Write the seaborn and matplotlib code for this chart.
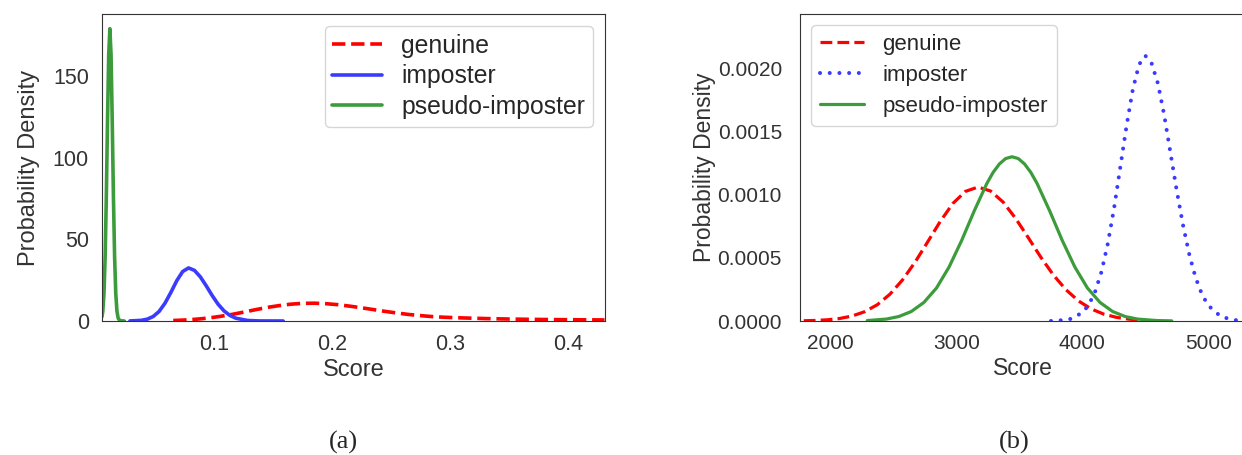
import matplotlib
matplotlib.use("Agg")
import matplotlib.pyplot as plt
import seaborn as sns
from matplotlib.ticker import FormatStrFormatter

# ---- data ----
# panel (a)
a_genuine_x = [0.0655, 0.075, 0.085, 0.095, 0.105, 0.115, 0.125, 0.135, 0.145,
               0.155, 0.165, 0.175, 0.185, 0.195, 0.205, 0.215, 0.225, 0.235,
               0.245, 0.255, 0.265, 0.275, 0.285, 0.295, 0.31, 0.33, 0.35,
               0.37, 0.39, 0.41, 0.431]
a_genuine_y = [0.3, 0.6, 1.1, 1.8, 2.8, 4.0, 5.4, 6.9, 8.3,
               9.4, 10.3, 10.8, 10.9, 10.6, 10.0, 9.1, 8.1, 7.0,
               5.9, 4.9, 4.0, 3.3, 2.7, 2.3, 1.9, 1.5, 1.2,
               1.0, 0.85, 0.75, 0.65]
a_imposter_x = [0.0288, 0.0385, 0.0435, 0.0485, 0.0535, 0.0585, 0.0635, 0.0685,
                0.0735, 0.0785, 0.0835, 0.0885, 0.0935, 0.0985, 0.1035, 0.1085,
                0.1135, 0.1185, 0.1285, 0.1385, 0.1587]
a_imposter_y = [0.04, 0.40, 1.13, 2.75, 5.85, 10.9, 17.5, 24.7,
                30.3, 32.5, 31.0, 27.0, 21.5, 15.6, 10.3, 6.22,
                3.43, 1.72, 0.33, 0.04, 0.0]
a_pseudo_x = [0.0051, 0.0058, 0.0068, 0.0078, 0.0088, 0.0098, 0.0108, 0.0118,
              0.0128, 0.0138, 0.0148, 0.0158, 0.0168, 0.0178, 0.0188, 0.0203,
              0.0240]
a_pseudo_y = [2.6, 5.96, 16.8, 39.5, 76.4, 122.7, 162.9, 179.0,
              162.9, 122.7, 76.4, 39.5, 16.8, 5.96, 1.74, 0.19,
              0.0]

# panel (b)
b_genuine_x = [1785, 1870, 1970, 2070, 2170, 2270, 2370, 2470, 2570, 2670,
               2770, 2870, 2970, 3070, 3170, 3270, 3370, 3470, 3570, 3670,
               3770, 3870, 3970, 4070, 4170, 4270, 4370, 4470]
b_genuine_y = [0.0000019, 0.0000041, 0.0000093, 0.0000198, 0.0000396,
               0.0000739, 0.000129, 0.000212, 0.000325, 0.000466,
               0.000626, 0.000788, 0.000930, 0.001026, 0.00106,
               0.001029, 0.000941, 0.000811, 0.000659, 0.000504,
               0.000363, 0.000247, 0.000158, 0.0000953, 0.0000542,
               0.0000290, 0.0000146, 0.0000070]
b_imposter_x = [3750, 3800, 3900, 4000, 4050, 4100, 4150, 4200, 4250, 4300,
                4350, 4400, 4450, 4500, 4550, 4600, 4650, 4700, 4750, 4800,
                4850, 4900, 4950, 5000, 5100, 5200, 5300]
b_imposter_y = [0.0000004, 0.0000024, 0.0000143, 0.0000658, 0.000127,
                0.000229, 0.000385, 0.000604, 0.000883, 0.00121,
                0.00154, 0.00183, 0.00203, 0.00210, 0.00204,
                0.00188, 0.00163, 0.00133, 0.00103, 0.000757,
                0.000524, 0.000342, 0.000211, 0.000123, 0.0000354,
                0.0000081, 0.0000015]
b_pseudo_x = [2290, 2440, 2540, 2640, 2740, 2840, 2940, 3040, 3140, 3240,
              3290, 3340, 3390, 3440, 3490, 3540, 3590, 3640, 3740, 3840,
              3940, 4040, 4140, 4240, 4340, 4440, 4590, 4710]
b_pseudo_y = [0.0000036, 0.0000151, 0.0000352, 0.0000752, 0.000147,
              0.000261, 0.000427, 0.000637, 0.000871, 0.001088,
              0.001176, 0.001243, 0.001286, 0.00130, 0.001286,
              0.001243, 0.001176, 0.001088, 0.000871, 0.000637,
              0.000427, 0.000261, 0.000147, 0.0000752, 0.0000352,
              0.0000151, 0.0000036, 0.000001]

labels = ["genuine", "imposter", "pseudo-imposter"]
RED, BLUE, GREEN = "#ff0000", "#3b3bff", "#3c9c3c"
TXT = "#333333"

sns.set_style("white")
plt.rcParams["font.family"] = ["Liberation Sans", "DejaVu Sans"]
plt.rcParams["axes.edgecolor"] = "#333333"

fig = plt.figure(figsize=(12.42, 4.55), dpi=100)
ax1 = fig.add_axes([0.0821, 0.2945, 0.4050, 0.6747])
ax2 = fig.add_axes([0.6441, 0.2945, 0.3591, 0.6747])

# ---- (a) ----
sns.lineplot(x=a_genuine_x, y=a_genuine_y, ax=ax1, color=RED, lw=2.6,
             linestyle="--", label=labels[0])
sns.lineplot(x=a_imposter_x, y=a_imposter_y, ax=ax1, color=BLUE, lw=2.6,
             label=labels[1])
sns.lineplot(x=a_pseudo_x, y=a_pseudo_y, ax=ax1, color=GREEN, lw=2.6,
             label=labels[2])
ax1.set_xlim(0.0051, 0.4314)
ax1.set_ylim(0, 188)
ax1.set_xticks([0.1, 0.2, 0.3, 0.4])
ax1.set_yticks([0, 50, 100, 150])
ax1.tick_params(axis="y", labelsize=15.5, colors=TXT, pad=6)
ax1.tick_params(axis="x", labelsize=15.5, colors=TXT, pad=6)
ax1.set_xlabel("Score", fontsize=17, color=TXT, labelpad=3)
ax1.set_ylabel("Probability Density", fontsize=17, color=TXT, labelpad=9)
ax1.legend(loc="upper right", fontsize=17.8, labelspacing=0.27, borderpad=0.3)

# ---- (b) ----
sns.lineplot(x=b_genuine_x, y=b_genuine_y, ax=ax2, color=RED, lw=2.3,
             linestyle="--", label=labels[0])
sns.lineplot(x=b_imposter_x, y=b_imposter_y, ax=ax2, color=BLUE, lw=2.9,
             linestyle=(0, (0.01, 2.4)), dash_capstyle="round", label=labels[1])
sns.lineplot(x=b_pseudo_x, y=b_pseudo_y, ax=ax2, color=GREEN, lw=2.3,
             label=labels[2])
ax2.set_xlim(1755, 5300)
ax2.set_ylim(0, 0.00243)
ax2.set_xticks([2000, 3000, 4000, 5000])
ax2.set_yticks([0, 0.0005, 0.001, 0.0015, 0.002])
ax2.yaxis.set_major_formatter(FormatStrFormatter("%.4f"))
ax2.tick_params(axis="y", labelsize=15, colors=TXT, pad=9.5)
ax2.tick_params(axis="x", labelsize=15, colors=TXT, pad=6)
ax2.set_xlabel("Score", fontsize=16.5, color=TXT, labelpad=3)
ax2.set_ylabel("Probability Density", fontsize=16.5, color=TXT, labelpad=1)
ax2.legend(loc="upper left", fontsize=16, labelspacing=0.45)

fig.text(343 / 1242, 1 - 442 / 455, "(a)", ha="center", va="center",
         fontsize=19, family="Liberation Serif")
fig.text(1014 / 1242, 1 - 442 / 455, "(b)", ha="center", va="center",
         fontsize=19, family="Liberation Serif")

fig.savefig("out.png", dpi=100)
